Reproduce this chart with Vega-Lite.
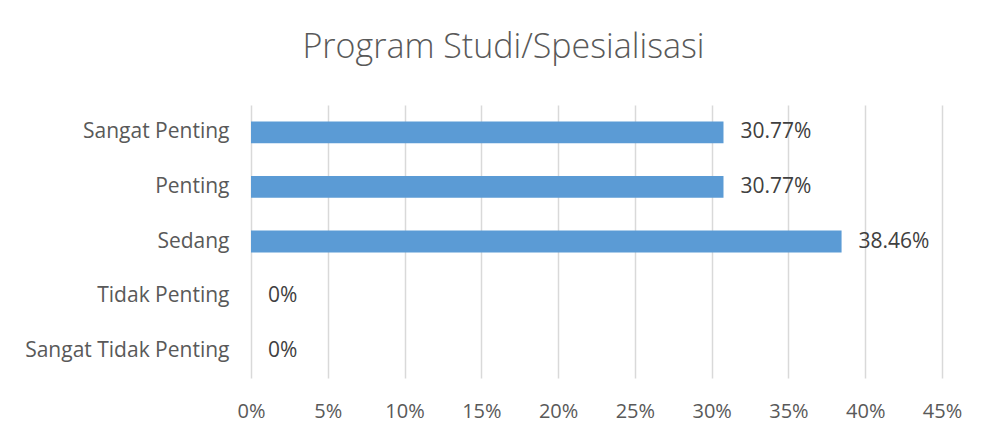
{
  "$schema": "https://vega.github.io/schema/vega-lite/v6.json",
  "width": 691,
  "height": 273,
  "autosize": {"type": "none"},
  "padding": {"left": 251, "top": 105, "right": 40, "bottom": 58},
  "background": "white",
  "title": {
    "text": "Program Studi/Spesialisasi",
    "font": "Open Sans",
    "fontSize": 34,
    "fontWeight": 300,
    "color": "#595959",
    "anchor": "middle",
    "dx": -93,
    "offset": 40
  },
  "data": {
    "values": [
      {"kategori": "Sangat Penting", "nilai": 0.3077},
      {"kategori": "Penting", "nilai": 0.3077},
      {"kategori": "Sedang", "nilai": 0.3846},
      {"kategori": "Tidak Penting", "nilai": 0},
      {"kategori": "Sangat Tidak Penting", "nilai": 0}
    ]
  },
  "encoding": {
    "y": {
      "field": "kategori",
      "type": "nominal",
      "sort": null,
      "scale": {"paddingInner": 0.6, "paddingOuter": 0.3},
      "axis": {
        "title": null,
        "domain": false,
        "ticks": false,
        "labelPadding": 22,
        "labelFont": "Open Sans",
        "labelFontSize": 21,
        "labelColor": "#595959",
        "labelLimit": 300
      }
    },
    "x": {
      "field": "nilai",
      "type": "quantitative",
      "scale": {"domain": [0, 0.45], "nice": false},
      "axis": {
        "title": null,
        "values": [0, 0.05, 0.1, 0.15, 0.2, 0.25, 0.3, 0.35, 0.4, 0.45],
        "format": ".0%",
        "domain": false,
        "ticks": false,
        "grid": true,
        "gridColor": "#d9d9d9",
        "gridWidth": 1.5,
        "labelFlush": false,
        "labelPadding": 23,
        "labelFont": "Open Sans",
        "labelFontSize": 20,
        "labelColor": "#595959"
      }
    }
  },
  "layer": [
    {"mark": {"type": "bar", "color": "#5B9BD5"}},
    {
      "mark": {"type": "text", "align": "left", "baseline": "middle", "dx": 17, "font": "Open Sans", "fontSize": 21, "color": "#404040"},
      "encoding": {"text": {"field": "nilai", "type": "quantitative", "format": ".4~p"}}
    }
  ],
  "config": {"view": {"stroke": null}}
}
